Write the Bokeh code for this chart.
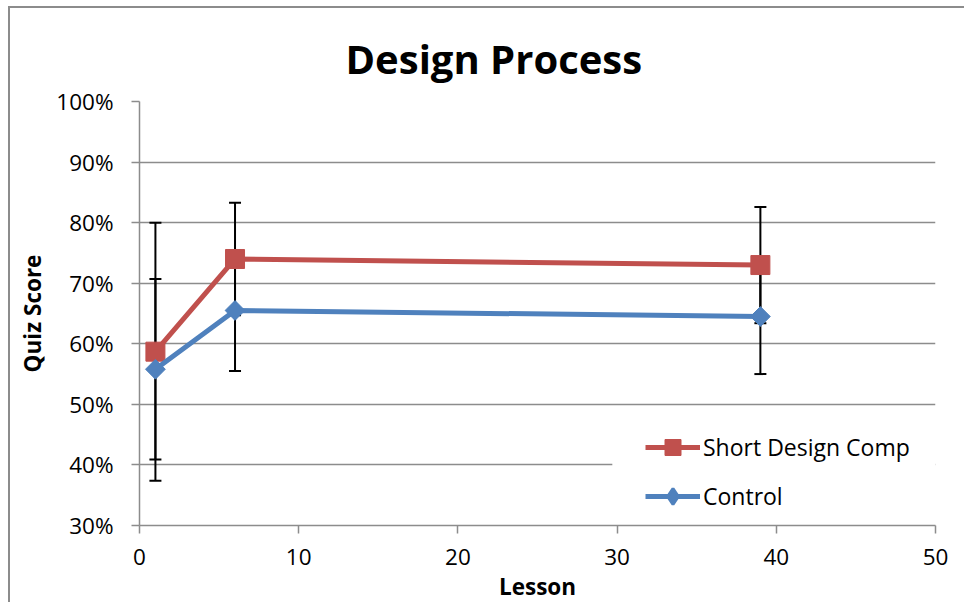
from bokeh.plotting import figure
from bokeh.models import (ColumnDataSource, Whisker, TeeHead, FixedTicker,
                          NumeralTickFormatter, Range1d, Legend, BoxAnnotation)
from bokeh.embed import file_html
from bokeh.resources import INLINE
import math

# ---- data ----
lessons = [1, 6, 39]
design_comp = [0.587, 0.740, 0.730]
design_comp_err = [0.213, 0.093, 0.096]
control = [0.558, 0.655, 0.645]
control_err = [0.149, 0.100, 0.095]
x_ticks = [0, 10, 20, 30, 40, 50]
y_ticks = [0.3, 0.4, 0.5, 0.6, 0.7, 0.8, 0.9, 1.0]

RED = "#C0504D"
BLUE = "#4F81BD"
GRID = "#8c8c8c"
FONT = "Open Sans"

p = figure(width=956, height=596, output_backend="svg", toolbar_location=None,
           x_range=Range1d(0, 50), y_range=Range1d(0.3, 1.0),
           min_border_left=129, min_border_right=31, min_border_top=93,
           min_border_bottom=79)
p.styles = {"margin-left": "8px", "margin-top": "6px",
            "border-left": "2px solid #8c8c8c", "border-top": "2px solid #8c8c8c"}
p.outline_line_color = None
p.background_fill_color = "white"
p.border_fill_color = "white"

# title
p.title.text = "Design Process"
p.title.text_font = FONT
p.title.text_font_size = "40px"
p.title.text_font_style = "bold"
p.title.text_color = "black"
p.title.align = "left"
p.title.offset = 206
p.title.standoff = 31

# axes
p.xaxis.ticker = FixedTicker(ticks=x_ticks)
p.yaxis.ticker = FixedTicker(ticks=y_ticks)
p.yaxis.formatter = NumeralTickFormatter(format="0%")
for ax in (p.xaxis, p.yaxis):
    ax.axis_line_color = GRID
    ax.axis_line_width = 1.5
    ax.major_tick_line_color = GRID
    ax.major_tick_line_width = 1.5
    ax.major_tick_out = 8
    ax.major_tick_in = 0
    ax.minor_tick_line_color = None
    ax.major_label_text_font = FONT
    ax.major_label_text_font_size = "22.5px"
    ax.major_label_text_color = "black"
    ax.axis_label_text_font = FONT
    ax.axis_label_text_font_size = "22.5px"
    ax.axis_label_text_font_style = "bold"
    ax.axis_label_text_color = "black"
p.xaxis.axis_label = "Lesson"
p.yaxis.axis_label = "Quiz Score"
p.yaxis.major_label_standoff = 18
p.xaxis.major_label_standoff = 15
p.yaxis.axis_label_standoff = 5
p.xaxis.axis_label_standoff = 3

p.xgrid.grid_line_color = None
p.ygrid.grid_line_color = GRID
p.ygrid.grid_line_width = 1.5

# legend background box (white) covering gridlines behind legend
bg = BoxAnnotation(left=29.7, bottom=0.303, top=0.45,
                   fill_color="white", fill_alpha=1, line_color=None,
                   level="underlay")
p.add_layout(bg)

# error bars
src_r = ColumnDataSource(dict(x=lessons, y=design_comp,
                              lo=[v - e for v, e in zip(design_comp, design_comp_err)],
                              hi=[v + e for v, e in zip(design_comp, design_comp_err)]))
src_b = ColumnDataSource(dict(x=lessons, y=control,
                              lo=[v - e for v, e in zip(control, control_err)],
                              hi=[v + e for v, e in zip(control, control_err)]))
for src in (src_r, src_b):
    w = Whisker(source=src, base="x", lower="lo", upper="hi",
                line_color="black", line_width=2,
                upper_head=TeeHead(size=12, line_color="black", line_width=2),
                lower_head=TeeHead(size=12, line_color="black", line_width=2),
                level="underlay")
    p.add_layout(w)

# series
r1 = p.line("x", "y", source=src_r, line_color=RED, line_width=5)
r2 = p.scatter("x", "y", source=src_r, marker="square", size=19,
               fill_color=RED, line_color=RED)
b1 = p.line("x", "y", source=src_b, line_color=BLUE, line_width=5)
# diamond (used for the legend swatch; hidden under the rotated squares)
b_leg = p.scatter("x", "y", source=src_b, marker="diamond", size=16,
                  fill_color=BLUE, line_color=BLUE, line_width=3)
b2 = p.scatter("x", "y", source=src_b, marker="square", size=14, angle=math.pi / 4,
               fill_color=BLUE, line_color=BLUE)

legend = Legend(items=[("Short Design Comp", [r1, r2]), ("Control", [b1, b_leg])],
                location=(506, 9), orientation="vertical",
                background_fill_alpha=0, border_line_alpha=0,
                padding=0, margin=0, spacing=9,
                glyph_width=55, glyph_height=40, label_height=20,
                label_standoff=3,
                label_text_font=FONT, label_text_font_size="23px",
                label_text_color="black")
p.add_layout(legend, "center")

open("out.html", "w").write(file_html(p, INLINE))
